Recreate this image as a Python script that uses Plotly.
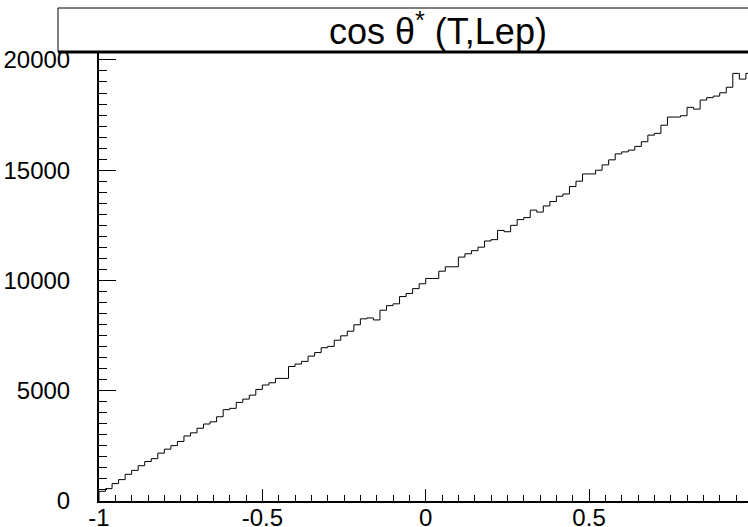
import plotly.graph_objects as go

# Histogram: cos theta* (T,Lep), 100 bins on [-1, 1]
bin_low = -1.0
bin_high = 1.0
counts = [
    440, 560, 790, 970, 1210, 1390, 1600, 1790, 1920, 2170,
    2350, 2510, 2700, 2950, 3090, 3300, 3490, 3590, 3820, 4140,
    4200, 4470, 4620, 4800, 5060, 5260, 5360, 5560, 5560, 6100,
    6210, 6330, 6570, 6730, 6950, 7010, 7290, 7490, 7700, 7990,
    8260, 8300, 8210, 8650, 8860, 8940, 9270, 9410, 9630, 9850,
    10090, 10090, 10420, 10620, 10620, 11060, 11210, 11350, 11510, 11790,
    11850, 12270, 12210, 12500, 12760, 12850, 13190, 13100, 13380, 13580,
    13820, 13920, 14260, 14500, 14830, 14830, 15000, 15240, 15470, 15740,
    15830, 15910, 16080, 16290, 16590, 16670, 17040, 17410, 17410, 17470,
    17850, 17770, 18180, 18290, 18360, 18510, 18760, 19390, 19130, 19390,
]
x_tickvals = [-1, -0.5, 0, 0.5]
x_ticktext = ["-1", "-0.5", "0", "0.5"]
y_tickvals = [0, 5000, 10000, 15000, 20000]
y_ticktext = ["0", "5000", "10000", "15000", "20000"]
title_text = "cos θ<sup>*</sup> (T,Lep)"

nbins = len(counts)
width = (bin_high - bin_low) / nbins
edges = [bin_low + i * width for i in range(nbins + 1)]
xs = [bin_low] + edges
ys = [0] + counts + [counts[-1]]

fig = go.Figure()
fig.add_trace(go.Scatter(
    x=xs, y=ys, mode="lines", line=dict(color="black", width=1, shape="hv"),
    hoverinfo="skip", showlegend=False,
))

W, H = 748, 527
ml, mt, mb = 99, 52, 26
plot_w = W - ml
plot_h = H - mt - mb
ymax = max(counts) * 1.05
xmax = bin_low + plot_w / 326.7

font = "Liberation Sans, Arial, sans-serif"
tick_size = 24

fig.update_layout(
    width=W, height=H,
    margin=dict(l=ml, r=0, t=mt, b=mb, pad=0),
    paper_bgcolor="white", plot_bgcolor="white",
    font=dict(family=font, size=tick_size, color="black"),
    xaxis=dict(
        range=[bin_low, xmax], showgrid=False, zeroline=False, automargin=False,
        showline=True, linecolor="black", linewidth=2,
        ticks="inside", ticklen=12, tickwidth=1, tickcolor="black",
        tickvals=x_tickvals, ticktext=x_ticktext,
        tickfont=dict(family=font, size=tick_size),
        ticklabelstandoff=-6,
        minor=dict(ticks="inside", ticklen=6, tickwidth=1, tickcolor="black",
                   dtick=0.05, tick0=0, showgrid=False),
    ),
    yaxis=dict(
        range=[0, ymax], showgrid=False, zeroline=False, automargin=False,
        showline=True, linecolor="black", linewidth=2,
        ticks="inside", ticklen=17, tickwidth=1, tickcolor="black",
        tickvals=y_tickvals, ticktext=y_ticktext,
        tickfont=dict(family=font, size=tick_size),
        ticklabelstandoff=22,
        minor=dict(ticks="inside", ticklen=8, tickwidth=1, tickcolor="black",
                   dtick=500, tick0=0, showgrid=False),
    ),
)

def px_x(p):
    return (p - ml) / plot_w

def px_y(p):
    return (H - mb - p) / plot_h

# Title box
fig.add_shape(type="rect", xref="paper", yref="paper",
              x0=px_x(58), x1=px_x(760), y0=px_y(52), y1=px_y(8),
              line=dict(color="black", width=1), fillcolor="white", layer="above")
fig.add_shape(type="line", xref="paper", yref="paper",
              x0=px_x(58), x1=px_x(760), y0=px_y(52), y1=px_y(52),
              line=dict(color="black", width=3), layer="above")
fig.add_annotation(text=title_text, xref="paper", yref="paper",
                   x=px_x(438), y=px_y(29), xanchor="center", yanchor="middle",
                   showarrow=False, font=dict(family=font, size=36, color="black"))

fig.write_html(
    "out.html",
    config={"displayModeBar": False},
    post_script="document.body.style.margin='0';document.body.style.overflow='hidden';",
)
